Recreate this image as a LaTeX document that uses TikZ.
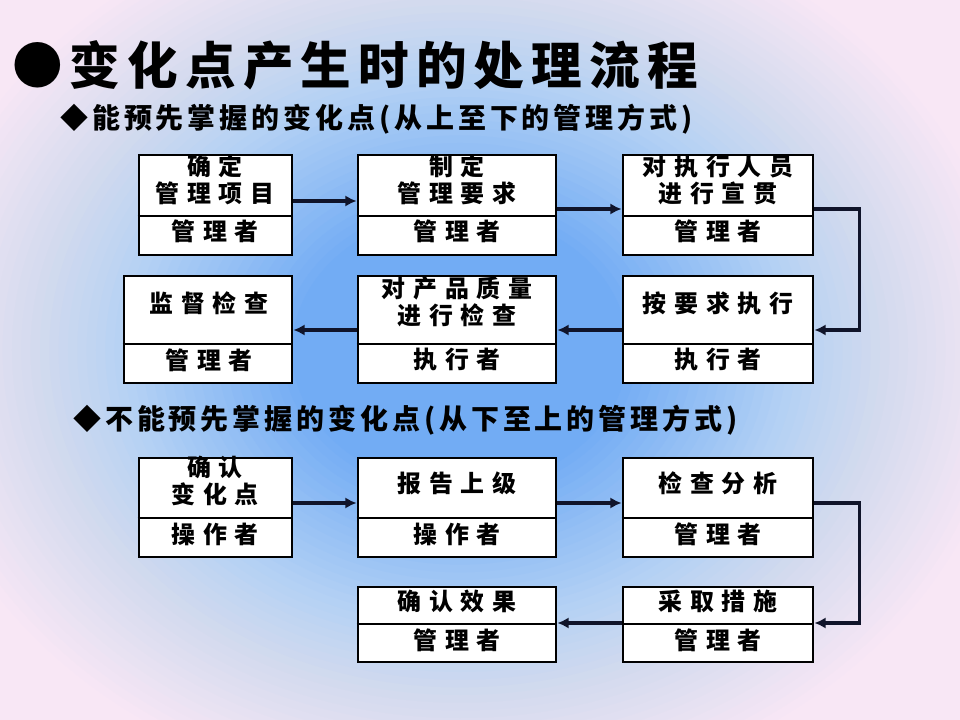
\documentclass[tikz,border=0pt]{standalone}
\usepackage{fontspec}
\newfontfamily\cjk{Noto Sans CJK SC}
\newfontfamily\cjkhead{Noto Sans CJK SC}[LetterSpace=14]
\newfontfamily\cjkbox{Noto Sans CJK SC}[LetterSpace=33]
\usepackage{xcolor}
\usepackage{tikz}
\usetikzlibrary{arrows.meta,calc}
\definecolor{bgpink}{HTML}{F8E7F5}
\definecolor{glowblue}{HTML}{72ACF4}
\definecolor{paleblue}{HTML}{B4D1F4}
\definecolor{greyblue}{HTML}{D2DAEE}
\definecolor{inkline}{HTML}{10142A}

\begin{document}
\begin{tikzpicture}[x=0.025cm, y=-0.025cm,
  size/.style 2 args={minimum width=#1*0.025cm, minimum height=#2*0.025cm},
  box/.style={draw=black, line width=2pt, fill=white, inner sep=0pt},
  divider/.style={draw=black, line width=2pt},
  cell/.style={font={\cjkbox\bfseries\fontsize{17}{19.1}\selectfont}, align=center, inner sep=0pt},
  heading/.style={anchor=west, inner sep=0pt, font={\cjkhead\bfseries\fontsize{19.9}{22}\selectfont}},
  flow/.style={draw=inkline, line width=2.7pt, -{Latex[length=8pt,width=8pt]}}]
\useasboundingbox (0,0) rectangle (960,720);
% background: blue glow fading out to pink
\fill[bgpink] (0,0) rectangle (960,720);
\begin{scope}
\clip (0,0) rectangle (960,720);
\foreach \k in {0,...,59} {
  \pgfmathsetmacro\r{1-\k/60}
  \pgfmathtruncatemacro\a{100*max(0,min(1,(0.6-\r)/0.3))}
  \pgfmathtruncatemacro\b{100*max(0,min(1,(0.76-\r)/0.16))}
  \pgfmathtruncatemacro\c{100*max(0,min(1,(1-\r)/0.24))}
  \fill[glowblue!\a!paleblue!\b!greyblue!\c!bgpink] (460,350) ellipse ({560*\r} and {460*\r});
}
\end{scope}
% titles
\node[anchor=west, inner sep=0pt, font={\cjkhead\bfseries\fontsize{36}{40}\selectfont}] (title) at (12,65) {●变化点产生时的处理流程};
\node[heading] (known) at (60,119) {◆能预先掌握的变化点(从上至下的管理方式)};
\node[heading] (unknown) at (73,420) {◆不能预先掌握的变化点(从下至上的管理方式)};
% top-down flow
\node[box, size={153}{100}] (fix) at (215.5,205) {};
\draw[divider] (fix.west |- 0,216) -- (fix.east |- 0,216);
\node[cell] (fixt) at (215,180) {确定\\管理项目};
\node[cell] (fixb) at (215,231) {管理者};
\node[box, size={198}{100}] (req) at (457,205) {};
\draw[divider] (req.west |- 0,216) -- (req.east |- 0,216);
\node[cell] (reqt) at (457,180) {制定\\管理要求};
\node[cell] (reqb) at (457,231) {管理者};
\node[box, size={190}{100}] (brief) at (718,205) {};
\draw[divider] (brief.west |- 0,216) -- (brief.east |- 0,216);
\node[cell] (brieft) at (718,180) {对执行人员\\进行宣贯};
\node[cell] (briefb) at (718,231) {管理者};
\node[box, size={190}{107}] (exec) at (718,329.5) {};
\draw[divider] (exec.west |- 0,344) -- (exec.east |- 0,344);
\node[cell] (exect) at (718,303) {按要求执行};
\node[cell] (execb) at (718,360) {执行者};
\node[box, size={198}{107}] (qc) at (457,329.5) {};
\draw[divider] (qc.west |- 0,344) -- (qc.east |- 0,344);
\node[cell] (qct) at (457,302) {对产品质量\\进行检查};
\node[cell] (qcb) at (457,360) {执行者};
\node[box, size={168}{107}] (audit) at (208,329.5) {};
\draw[divider] (audit.west |- 0,344) -- (audit.east |- 0,344);
\node[cell] (auditt) at (209,303) {监督检查};
\node[cell] (auditb) at (209,360) {管理者};
\draw[flow] (fix.east |- 0,201) -- (req.west |- 0,201);
\draw[flow] (req.east |- 0,209) -- (brief.west |- 0,209);
\draw[flow] (brief.east |- 0,209) -- ++(45,0) |- (exec.east |- 0,330);
\draw[flow] (exec.west |- 0,330) -- (qc.east |- 0,330);
\draw[flow] (qc.west |- 0,330) -- (audit.east |- 0,330);
% bottom-up flow
\node[box, size={153}{99}] (spot) at (215.5,507.5) {};
\draw[divider] (spot.west |- 0,518) -- (spot.east |- 0,518);
\node[cell] (spott) at (215,481) {确认\\变化点};
\node[cell] (spotb) at (215,534) {操作者};
\node[box, size={198}{99}] (report) at (457,507.5) {};
\draw[divider] (report.west |- 0,518) -- (report.east |- 0,518);
\node[cell] (reportt) at (457,483) {报告上级};
\node[cell] (reportb) at (457,534) {操作者};
\node[box, size={190}{99}] (analyse) at (718,507.5) {};
\draw[divider] (analyse.west |- 0,518) -- (analyse.east |- 0,518);
\node[cell] (analyset) at (718,483) {检查分析};
\node[cell] (analyseb) at (718,534) {管理者};
\node[box, size={190}{75}] (act) at (718,624.5) {};
\draw[divider] (act.west |- 0,624) -- (act.east |- 0,624);
\node[cell] (actt) at (718,601) {采取措施};
\node[cell] (actb) at (718,640) {管理者};
\node[box, size={198}{75}] (verify) at (457,624.5) {};
\draw[divider] (verify.west |- 0,624) -- (verify.east |- 0,624);
\node[cell] (verifyt) at (457,601) {确认效果};
\node[cell] (verifyb) at (457,640) {管理者};
\draw[flow] (spot.east |- 0,503) -- (report.west |- 0,503);
\draw[flow] (report.east |- 0,503) -- (analyse.west |- 0,503);
\draw[flow] (analyse.east |- 0,503) -- ++(45,0) |- (act.east |- 0,623);
\draw[flow] (act.west |- 0,623) -- (verify.east |- 0,623);
\end{tikzpicture}
\end{document}
